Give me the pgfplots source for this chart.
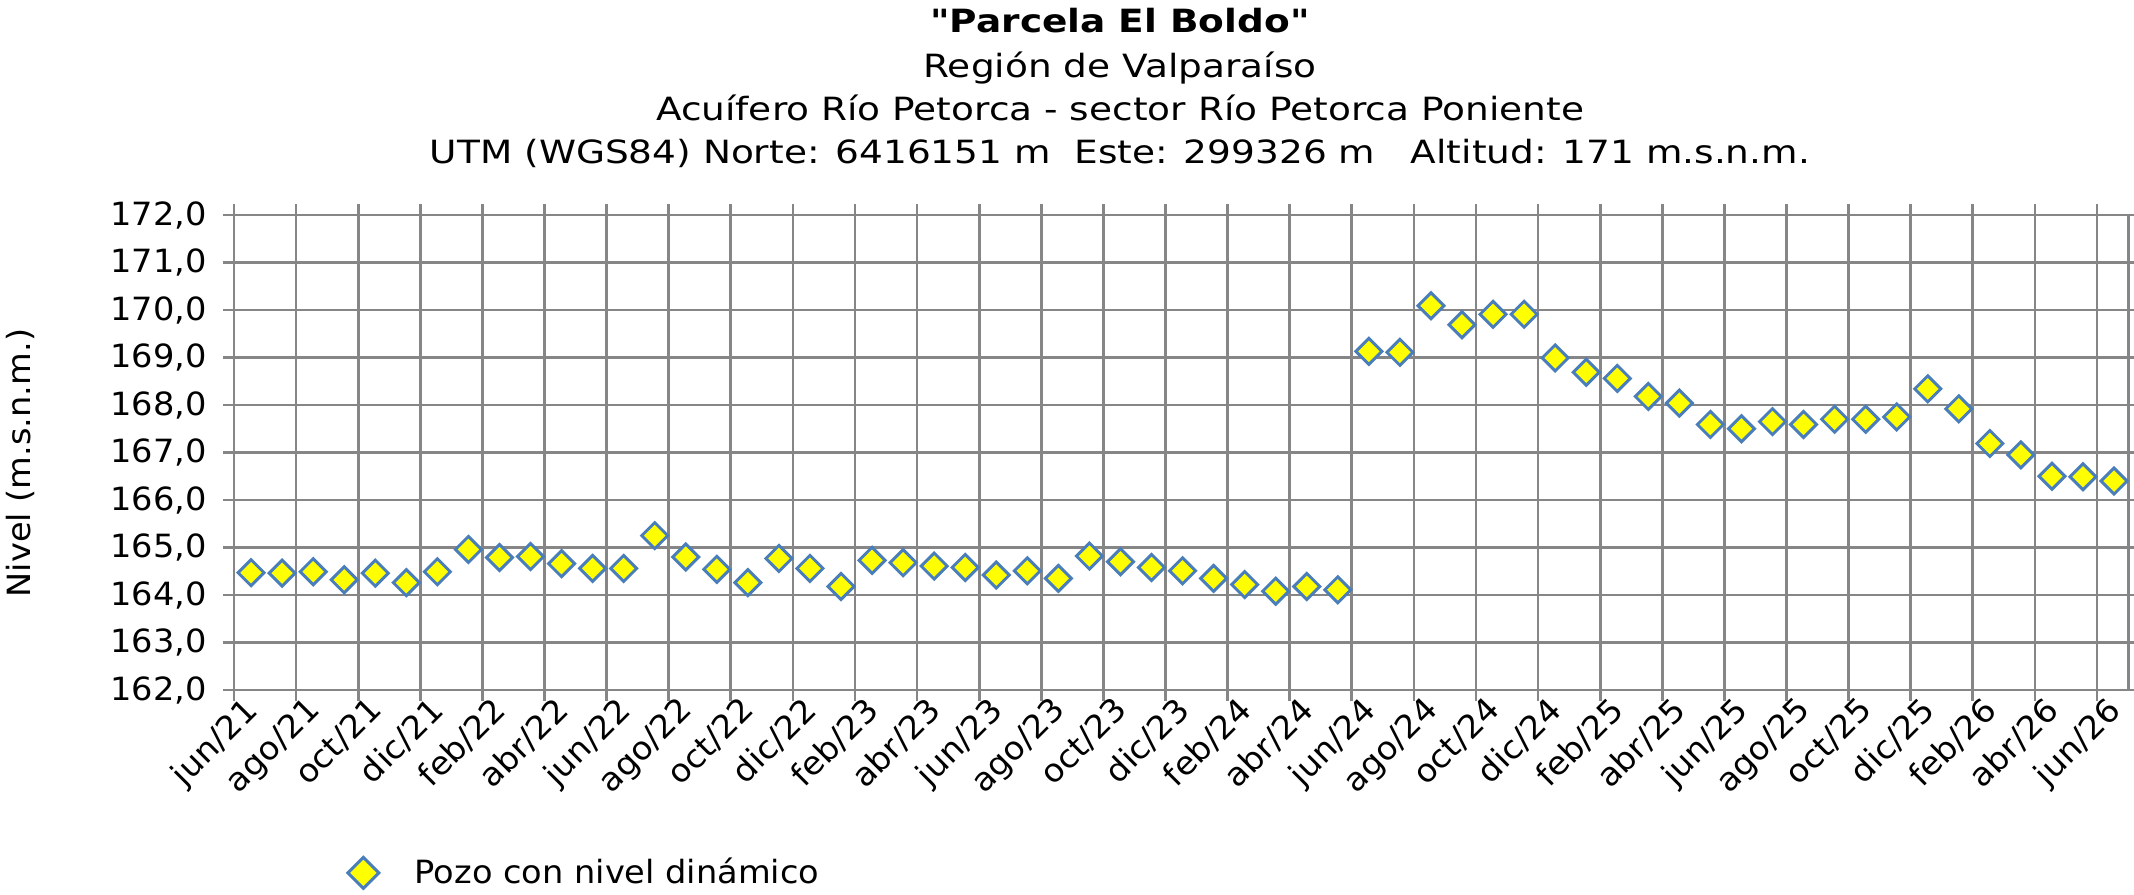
\documentclass[border=0pt]{standalone}
\usepackage{pgfplots}
\pgfplotsset{compat=1.18}
\usepackage{fontspec}
\setmainfont{DejaVu Sans}
\newfontfamily\tfont[FakeStretch=1.17]{DejaVu Sans}
\newfontfamily\afont[FakeStretch=1.05]{DejaVu Sans}
\newcommand\f{\afont\fontsize{12}{14.4}\selectfont}
\newcommand\tf{\tfont\fontsize{12}{14.4}\selectfont}
\definecolor{gridgray}{RGB}{134,134,134}
\definecolor{mkblue}{RGB}{74,126,187}
\definecolor{mkyellow}{RGB}{255,255,0}
\pgfplotstableread{
x y
0.55 164.47
1.55 164.46
2.55 164.49
3.55 164.32
4.55 164.46
5.55 164.26
6.55 164.49
7.55 164.96
8.55 164.79
9.55 164.81
10.55 164.66
11.55 164.56
12.55 164.56
13.55 165.25
14.55 164.80
15.55 164.54
16.55 164.26
17.55 164.77
18.55 164.56
19.55 164.18
20.55 164.73
21.55 164.68
22.55 164.61
23.55 164.58
24.55 164.42
25.55 164.51
26.55 164.35
27.55 164.82
28.55 164.70
29.55 164.58
30.55 164.51
31.55 164.35
32.55 164.22
33.55 164.08
34.55 164.18
35.55 164.11
36.55 169.13
37.55 169.11
38.55 170.09
39.55 169.69
40.55 169.91
41.55 169.91
42.55 168.99
43.55 168.69
44.55 168.56
45.55 168.18
46.55 168.04
47.55 167.59
48.55 167.50
49.55 167.65
50.55 167.59
51.55 167.70
52.55 167.70
53.55 167.75
54.55 168.34
55.55 167.92
56.55 167.19
57.55 166.95
58.55 166.50
59.55 166.49
60.55 166.40
}\pozo
\begin{document}
\begin{tikzpicture}[x=0.374883pt, y=-0.374883pt]
\begin{axis}[
  at={(87.722pt,-258.669pt)}, anchor=south west,
  scale only axis, width=710.03pt, height=178.07pt,
  xmin=0, xmax=61, ymin=162, ymax=172,
  xtick={0,2,...,60},
  xticklabels={jun/21,ago/21,oct/21,dic/21,feb/22,abr/22,jun/22,ago/22,oct/22,dic/22,feb/23,abr/23,jun/23,ago/23,oct/23,dic/23,feb/24,abr/24,jun/24,ago/24,oct/24,dic/24,feb/25,abr/25,jun/25,ago/25,oct/25,dic/25,feb/26,abr/26,jun/26},
  ytick={162,163,...,172},
  grid=major,
  major grid style={gridgray, line width=1pt},
  axis line style={gridgray, line width=1.1pt},
  tick align=outside, major tick length=4pt,
  tick style={gridgray, line width=1pt},
  xticklabel style={font=\f, rotate=45, anchor=north east, xshift=4pt, yshift=-0.5pt, inner sep=0pt},
  yticklabel style={font=\f, anchor=east, inner sep=0pt, xshift=-6pt},
  /pgf/number format/fixed, /pgf/number format/fixed zerofill,
  /pgf/number format/precision=1, /pgf/number format/use comma,
  /pgf/number format/assume math mode=true,
  legend style={draw=none, fill=none, font=\f, at={(0.0515,-0.385)}, anchor=west},
  legend cell align=left,
  legend image code/.code={\path (0cm,0cm) (0.9cm,0cm); \draw[#1, mark size=4.1pt] plot coordinates {(0.3cm,0cm)};},
  clip=false,
]
\addplot[only marks, mark=square*, mark size=3.45pt,
  mark options={rotate=45, fill=mkyellow, draw=mkblue, line width=1.1pt}]
  table[x=x, y=y] {\pozo};
\addlegendentry{Pozo con nivel dinámico}
\end{axis}
\node[anchor=base, font=\tf\bfseries] at (1120,33) {"Parcela El Boldo"};
\node[anchor=base, font=\tf] at (1120,78) {Región de Valparaíso};
\node[anchor=base, font=\tf] at (1120,121) {Acuífero Río Petorca - sector Río Petorca Poniente};
\node[anchor=base, font=\tf] at (1120,164) {UTM (WGS84) Norte: 6416151 m\ \ Este: 299326 m\ \ \ Altitud: 171 m.s.n.m.};
\node[rotate=90, font=\f] at (20,463) {Nivel (m.s.n.m.)};
\pgfresetboundingbox
\path[use as bounding box] (0,0) rectangle (2134,895);
\end{tikzpicture}
\end{document}
